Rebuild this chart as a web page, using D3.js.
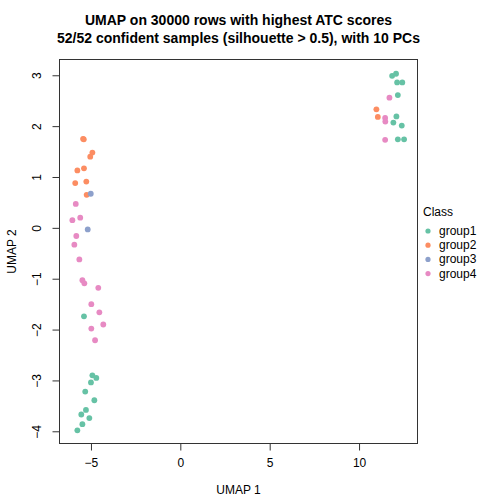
<!DOCTYPE html>
<html><head><meta charset="utf-8">
<script src="https://cdn.jsdelivr.net/npm/d3@7"></script>
<style>body{margin:0;background:#fff}svg{display:block;font-family:"Liberation Sans",Arial,sans-serif}</style>
</head><body>
<script>
const classes = ["group1","group2","group3","group4"];
const colors = ["#66C2A5","#FC8D62","#8DA0CB","#E78AC3"];
const xTicks = [-5,0,5,10];
const yTicks = [-4,-3,-2,-1,0,1,2,3];
const g1x = [-5.39,-4.92,-4.70,-5.00,-5.32,-4.81,-5.28,-5.54,-5.09,-5.48,-5.76,11.85,12.07,12.13,12.42,12.17,12.09,11.92,12.39,12.17,12.52];
const g1y = [-1.74,-2.90,-2.95,-3.04,-3.22,-3.39,-3.58,-3.67,-3.74,-3.86,-3.98,2.99,3.03,2.86,2.86,2.61,2.19,2.07,2.01,1.74,1.74];
const g2x = [-5.44,-5.40,-4.92,-5.04,-5.76,-5.39,-5.88,-5.26,-5.24,10.97,11.05];
const g2y = [1.75,1.74,1.48,1.40,1.13,1.17,0.88,0.91,0.65,2.33,2.18];
const g3x = [-5.01,-5.18];
const g3y = [0.67,-0.03];
const g4x = [-5.85,-6.04,-5.60,-5.82,-5.93,-5.65,-5.48,-5.37,-4.59,-4.98,-4.53,-4.31,-4.98,-4.77,11.70,11.46,11.47,11.46];
const g4y = [0.47,0.15,0.20,-0.16,-0.33,-0.62,-1.03,-1.09,-1.18,-1.50,-1.66,-1.90,-1.98,-2.21,2.56,2.16,2.09,1.73];

const W=504,H=504;
const L=59.5,R=417.5,T=59.5,B=443.5;
const svg=d3.select("body").append("svg").attr("width",W).attr("height",H);
const x=d3.scaleLinear().domain([-6.76,13.27]).range([L,R]);
const y=d3.scaleLinear().domain([-4.24,3.31]).range([B,T]);

const groups=[[g1x,g1y],[g2x,g2y],[g3x,g3y],[g4x,g4y]];
const pts=[];
groups.forEach((g,i)=>g[0].forEach((v,j)=>pts.push({x:v,y:g[1][j],c:i})));
svg.append("g").selectAll("circle").data(pts).join("circle")
  .attr("cx",d=>x(d.x)).attr("cy",d=>y(d.y)).attr("r",2.9)
  .attr("fill",d=>colors[d.c]);

svg.append("rect").attr("x",L).attr("y",T).attr("width",R-L).attr("height",B-T)
  .attr("fill","none").attr("stroke","#333").attr("stroke-width",1);

const xa=svg.append("g").attr("transform",`translate(0,${B})`)
  .call(d3.axisBottom(x).tickValues(xTicks).tickSize(7).tickPadding(8).tickFormat(d3.format("d")));
const ya=svg.append("g").attr("transform",`translate(${L},0)`)
  .call(d3.axisLeft(y).tickValues(yTicks).tickSize(7).tickPadding(8).tickFormat(d3.format("d")));
[xa,ya].forEach(a=>{
  a.select(".domain").remove();
  a.selectAll("line").attr("stroke","#333");
  a.selectAll("text").attr("font-size",12).attr("fill","#000").attr("font-family","Liberation Sans, Arial, sans-serif");
});
svg.append("line").attr("x1",x(-5)).attr("x2",x(10)).attr("y1",B).attr("y2",B).attr("stroke","#333");
svg.append("line").attr("x1",L).attr("x2",L).attr("y1",y(-4)).attr("y2",y(3)).attr("stroke","#333");
ya.selectAll("text").attr("text-anchor","middle").attr("dy",null).attr("x",0).attr("y",0)
  .attr("transform","translate(-22,0) rotate(-90)")
  .attr("dominant-baseline","middle");

svg.append("text").attr("x",(L+R)/2).attr("y",494).attr("text-anchor","middle").attr("font-size",12).text("UMAP 1");
svg.append("text").attr("transform",`translate(13,${(T+B)/2}) rotate(-90)`).attr("text-anchor","middle").attr("dominant-baseline","middle").attr("font-size",12).text("UMAP 2");

const title=svg.append("g").attr("font-weight","bold").attr("font-size",14).attr("text-anchor","middle");
title.append("text").attr("x",(L+R)/2).attr("y",25).text("UMAP on 30000 rows with highest ATC scores");
title.append("text").attr("x",(L+R)/2).attr("y",43).text("52/52 confident samples (silhouette > 0.5), with 10 PCs");

const lg=svg.append("g");
lg.append("text").attr("x",423).attr("y",216).attr("font-size",12).text("Class");
classes.forEach((c,i)=>{
  const yy=231+i*14.2;
  lg.append("circle").attr("cx",428).attr("cy",yy).attr("r",2.6).attr("fill",colors[i]);
  lg.append("text").attr("x",439).attr("y",yy+4).attr("font-size",12).text(c);
});
</script>
</body></html>
